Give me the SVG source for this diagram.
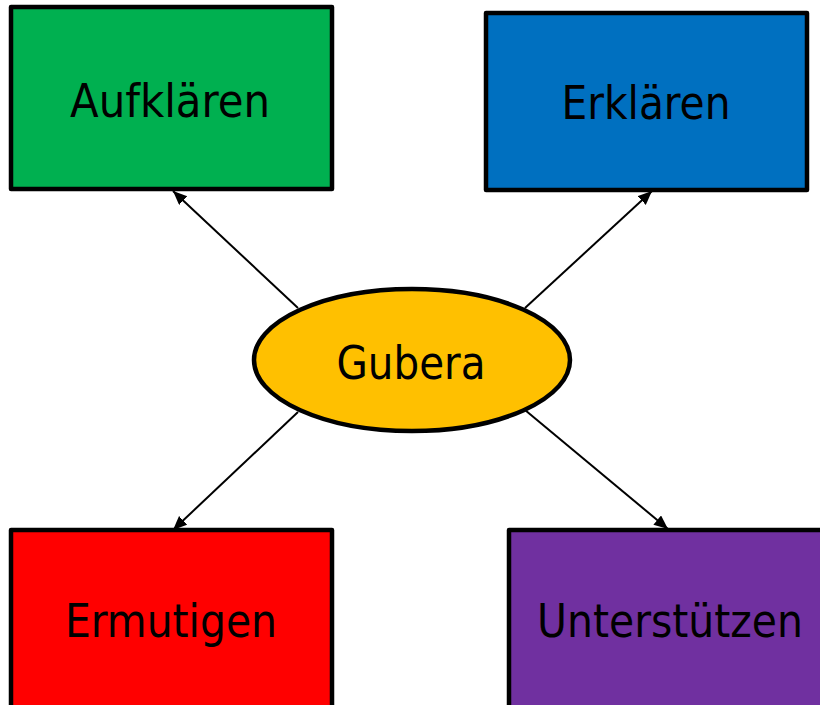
<svg xmlns="http://www.w3.org/2000/svg" width="820" height="705" viewBox="0 0 820 705">
<style>
.box{stroke:#000;stroke-width:4.5;stroke-linejoin:round}
.lbl{font-family:"DejaVu Sans Condensed","DejaVu Sans",sans-serif;font-stretch:condensed;font-size:46px;fill:#000;text-anchor:middle}
.conn{stroke:#000;stroke-width:2;fill:none;marker-end:url(#ah)}
</style>
<defs>
<marker id="ah" markerUnits="userSpaceOnUse" markerWidth="16" markerHeight="14" refX="14" refY="6" orient="auto">
<path d="M0,0 L14,6 L0,12 Z" fill="#000"/>
</marker>
</defs>
<rect width="820" height="705" fill="#fff"/>
<g id="connectors">
<line class="conn" x1="298" y1="308" x2="173" y2="191"/>
<line class="conn" x1="525" y1="308" x2="652" y2="191"/>
<line class="conn" x1="298" y1="412" x2="173" y2="530"/>
<line class="conn" x1="525" y1="410" x2="668" y2="529"/>
</g>
<g id="aufklaeren">
<rect class="box" x="11" y="7" width="321" height="182" fill="#00B050"/>
<text class="lbl" x="170" y="117" textLength="200" lengthAdjust="spacingAndGlyphs">Aufklären</text>
</g>
<g id="erklaeren">
<rect class="box" x="486" y="13" width="321" height="177" fill="#0070C0"/>
<text class="lbl" x="646" y="119" textLength="169" lengthAdjust="spacingAndGlyphs">Erklären</text>
</g>
<g id="ermutigen">
<rect class="box" x="11" y="530" width="321" height="182" fill="#FF0000"/>
<text class="lbl" x="171" y="637" textLength="212" lengthAdjust="spacingAndGlyphs">Ermutigen</text>
</g>
<g id="unterstuetzen">
<rect class="box" x="509" y="530" width="321" height="182" fill="#7030A0"/>
<text class="lbl" x="670" y="637" textLength="266" lengthAdjust="spacingAndGlyphs">Unterstützen</text>
</g>
<g id="gubera">
<ellipse class="box" cx="412" cy="360" rx="158" ry="71" fill="#FFC000"/>
<text class="lbl" x="411" y="379" textLength="149" lengthAdjust="spacingAndGlyphs">Gubera</text>
</g>
</svg>
